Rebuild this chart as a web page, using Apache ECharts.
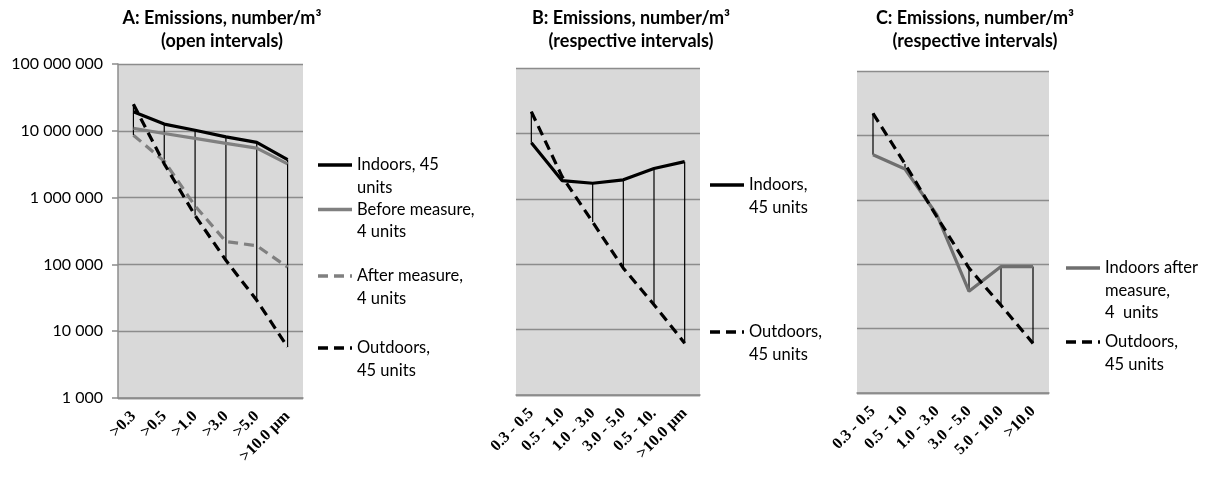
<!DOCTYPE html>
<html>
<head>
<meta charset="utf-8">
<script src="https://cdn.jsdelivr.net/npm/echarts@6/dist/echarts.min.js"></script>
<style>
  html, body { margin: 0; padding: 0; background: #fff; }
  #chart { width: 1208px; height: 477px; }
</style>
</head>
<body>
<div id="chart"></div>
<script>
// Particle size classes
const catsA = ['>0.3', '>0.5', '>1.0', '>3.0', '>5.0', '>10.0 µm'];
const catsB = ['0.3 - 0.5', '0.5 - 1.0', '1.0 - 3.0', '3.0 - 5.0', '0.5 - 10.', '>10.0 µm'];
const catsC = ['0.3 - 0.5', '0.5 - 1.0', '1.0 - 3.0', '3.0 - 5.0', '5.0 - 10.0', '>10.0'];

// A: cumulative (open interval) counts, number/m³
const aIndoors45 = [19300000, 12600000, 10200000, 8100000, 6700000, 3700000];
const aBefore4 = [10900000, 9100000, 7700000, 6500000, 5500000, 3200000];
const aAfter4 = [8600000, 3500000, 750000, 220000, 190000, 91000];
const aOutdoors45 = [25000000, 3200000, 540000, 115000, 29000, 5800];

// B: counts per interval, number/m³
const bIndoors45 = [7200000, 1900000, 1730000, 1950000, 2900000, 3700000];
const bOutdoors45 = [21500000, 2200000, 440000, 87000, 24000, 6200];

// C: counts per interval, number/m³
const cIndoorsAfter4 = [5000000, 3000000, 580000, 38000, 92000, 92000];
const cOutdoors45 = [22000000, 3600000, 540000, 87000, 23000, 5900];

// Y axis decades
const yMin = 1000;
const yMax = 100000000;

const GRID_COLOR = '#8c8c8c';
const SERIF = '"Liberation Serif", "DejaVu Serif", serif';
const SANS = 'Lato, "Noto Sans", sans-serif';

function spaced(v) {
  return String(Math.round(v)).replace(/\B(?=(\d{3})+(?!\d))/g, ' ');
}

// high-low connectors between the largest and smallest value of each class
function rangeData(seriesList) {
  return seriesList[0].map((_, i) => {
    const vals = seriesList.map(s => s[i]);
    return [i, Math.max.apply(null, vals), Math.min.apply(null, vals)];
  });
}

function rangeSeries(idx, seriesList) {
  return {
    type: 'custom',
    xAxisIndex: idx, yAxisIndex: idx,
    z: 1,
    silent: true,
    encode: { x: 0, y: [1, 2] },
    data: rangeData(seriesList),
    renderItem: function (params, api) {
      const top = api.coord([api.value(0), api.value(1)]);
      const bot = api.coord([api.value(0), api.value(2)]);
      return {
        type: 'line',
        shape: { x1: top[0], y1: top[1], x2: bot[0], y2: bot[1] },
        style: { stroke: '#000', lineWidth: 1.2 }
      };
    }
  };
}

function lineSeries(idx, name, data, color, dashed) {
  return {
    type: 'line', name: name,
    xAxisIndex: idx, yAxisIndex: idx,
    data: data,
    symbol: 'none',
    z: 3,
    lineStyle: { color: color, width: 3.2, type: dashed ? [10, 6] : 'solid' }
  };
}

const grids = [
  { left: 118, top: 64, width: 185, height: 334 },
  { left: 516, top: 68, width: 184, height: 327 },
  { left: 857, top: 71, width: 192, height: 322 }
].map(g => Object.assign(g, { show: true, backgroundColor: '#d9d9d9', borderWidth: 0, containLabel: false }));

function xAxis(idx, cats) {
  return {
    type: 'category', gridIndex: idx, data: cats,
    boundaryGap: true,
    axisLine: { show: true, lineStyle: { color: GRID_COLOR, width: 1.5 } },
    axisTick: { show: false },
    axisLabel: {
      rotate: 45, interval: 0, margin: 16,
      fontFamily: SERIF, fontWeight: 'bold', fontSize: 16, color: '#000'
    },
    splitLine: { show: false }
  };
}

function yAxis(idx, withLabels) {
  return {
    type: 'log', logBase: 10, gridIndex: idx,
    min: yMin, max: yMax,
    axisLine: { show: withLabels, lineStyle: { color: GRID_COLOR, width: 1.5 } },
    axisTick: { show: withLabels, length: 6, lineStyle: { color: GRID_COLOR, width: 1.5 } },
    minorTick: { show: false },
    axisLabel: {
      show: withLabels, formatter: spaced, margin: 15,
      fontFamily: SANS, fontSize: 16, color: '#000'
    },
    splitLine: { show: true, lineStyle: { color: GRID_COLOR, width: 1.4 } }
  };
}

// legend entries: sample line followed by wrapped label
const legendItems = [
  { x: 318, y: 165, color: '#000', dash: null, text: 'Indoors, 45\nunits' },
  { x: 318, y: 209.5, color: '#808080', dash: null, text: 'Before measure,\n4 units' },
  { x: 318, y: 276, color: '#808080', dash: [10, 6], text: 'After measure,\n4 units' },
  { x: 318, y: 348, color: '#000', dash: [10, 6], text: 'Outdoors,\n45 units' },
  { x: 710, y: 185, color: '#000', dash: null, text: 'Indoors,\n45 units' },
  { x: 710, y: 332, color: '#000', dash: [10, 6], text: 'Outdoors,\n45 units' },
  { x: 1066, y: 268, color: '#6f6f6f', dash: null, text: 'Indoors after\nmeasure,\n4  units' },
  { x: 1066, y: 342, color: '#000', dash: [10, 6], text: 'Outdoors,\n45 units' }
];

const graphics = [];
legendItems.forEach(it => {
  graphics.push({
    type: 'line',
    shape: { x1: it.x, y1: it.y, x2: it.x + 34, y2: it.y },
    style: { stroke: it.color, lineWidth: 3.5, lineDash: it.dash || null }
  });
  graphics.push({
    type: 'text',
    x: it.x + 39, y: it.y - 11.25,
    style: {
      text: it.text, fill: '#000', font: '16.5px ' + SANS,
      lineHeight: 22.5, verticalAlign: 'top', align: 'left'
    }
  });
});

// panel headings
const titles = [
  { cx: 222, lines: ['A: Emissions, number/m³', '(open intervals)'] },
  { cx: 631, lines: ['B: Emissions, number/m³', '(respective intervals)'] },
  { cx: 975, lines: ['C: Emissions, number/m³', '(respective intervals)'] }
];
titles.forEach(t => {
  graphics.push({
    type: 'text', x: t.cx, y: 7,
    style: {
      text: t.lines.join('\n'), fill: '#000',
      font: 'bold 18px ' + SANS, lineHeight: 23,
      align: 'center', verticalAlign: 'top'
    }
  });
});

const option = {
  animation: false,
  backgroundColor: '#fff',
  grid: grids,
  xAxis: [xAxis(0, catsA), xAxis(1, catsB), xAxis(2, catsC)],
  yAxis: [yAxis(0, true), yAxis(1, false), yAxis(2, false)],
  series: [
    rangeSeries(0, [aIndoors45, aBefore4, aAfter4, aOutdoors45]),
    lineSeries(0, 'Indoors, 45 units', aIndoors45, '#000', false),
    lineSeries(0, 'Before measure, 4 units', aBefore4, '#808080', false),
    lineSeries(0, 'After measure, 4 units', aAfter4, '#808080', true),
    lineSeries(0, 'Outdoors, 45 units', aOutdoors45, '#000', true),

    rangeSeries(1, [bIndoors45, bOutdoors45]),
    lineSeries(1, 'Indoors, 45 units', bIndoors45, '#000', false),
    lineSeries(1, 'Outdoors, 45 units', bOutdoors45, '#000', true),

    rangeSeries(2, [cIndoorsAfter4, cOutdoors45]),
    lineSeries(2, 'Indoors after measure, 4 units', cIndoorsAfter4, '#6f6f6f', false),
    lineSeries(2, 'Outdoors, 45 units', cOutdoors45, '#000', true)
  ],
  graphic: graphics
};

const chart = echarts.init(document.getElementById('chart'), null, { renderer: 'canvas' });
chart.setOption(option);
</script>
</body>
</html>
